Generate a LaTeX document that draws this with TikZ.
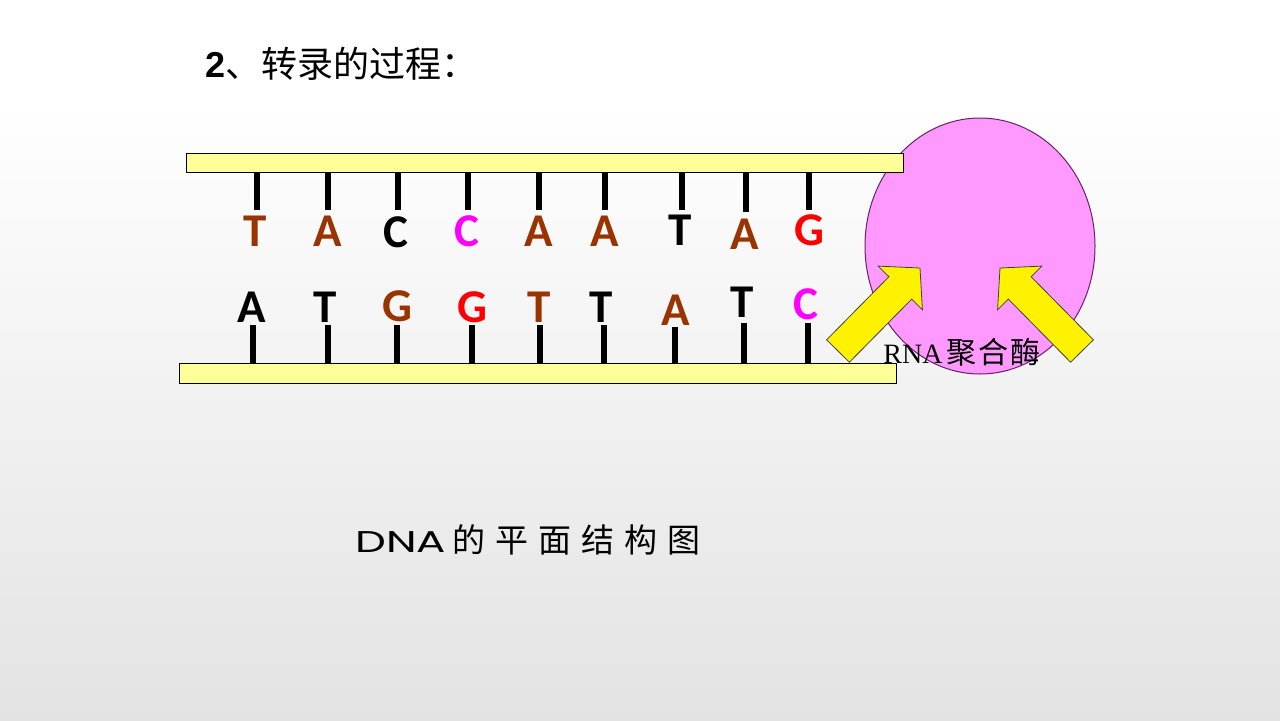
\documentclass[tikz,border=0pt]{standalone}
\usepackage{fontspec}
\usepackage{graphicx}
\usetikzlibrary{shapes.geometric}
\newfontfamily\cjk{Noto Sans CJK SC}
\newfontfamily\basef{Carlito}
\newfontfamily\arialf{Liberation Sans}
\newfontfamily\timesf{Liberation Serif}
\newfontfamily\gothicf{Poppins}
\definecolor{nbrown}{HTML}{993300}
\definecolor{nmag}{HTML}{FF00FF}
\definecolor{nred}{HTML}{FF0000}
\definecolor{barfill}{HTML}{FFFF99}
\definecolor{polfill}{HTML}{FF99FF}
\definecolor{poledge}{HTML}{6A1F6A}
\tikzset{
  bar/.style={draw=black, line width=0.5pt, fill=barfill, inner sep=0pt},
  tickline/.style={line width=3pt, black},
  base/.style={inner sep=0pt, font=\basef\bfseries\fontsize{23.5pt}{26pt}\selectfont},
  bigarrow/.style={fill=yellow, draw=black!75, line width=0.4pt, line join=miter},
}
\begin{document}
\begin{tikzpicture}[x=0.5pt,y=-0.5pt]
\useasboundingbox (0,0) rectangle (1280,720);
\fill[white] (0,0) rectangle (1280,720);
\shade[top color=white, bottom color=black!11] (0,100) rectangle (1280,720);

% RNA polymerase
\node[ellipse, draw=poledge, line width=0.5pt, fill=polfill, minimum width=115pt, minimum height=128pt, inner sep=0pt] (pol) at (980,246) {};

% strands
\node[bar, minimum width=358.5pt, minimum height=9.5pt] (topbar) at (544.5,162.5) {};
\node[bar, minimum width=358.5pt, minimum height=10pt] (botbar) at (537.5,373) {};

% top ticks
\foreach \x/\e in {257/210, 328/210, 398/210, 468/210, 539/210, 605/210, 682/210, 746/212, 809/210}
  \draw[tickline] (\x,172) -- (\x,\e);
% bottom ticks
\foreach \x/\s in {253/325, 328/325, 397/325, 472/325, 540/325, 604/325, 675/327, 744/323, 808/323}
  \draw[tickline] (\x,\s) -- (\x,363);

% top bases
\node[base, text=nbrown] (t1) at (255,231) {T};
\node[base, text=nbrown] (t2) at (328,231) {A};
\node[base, text=black]  (t3) at (396,232) {C};
\node[base, text=nmag]   (t4) at (467,231) {C};
\node[base, text=nbrown] (t5) at (539,231) {A};
\node[base, text=nbrown] (t6) at (605,231) {A};
\node[base, text=black]  (t7) at (680,230) {T};
\node[base, text=nbrown] (t8) at (745,234) {A};
\node[base, text=nred]   (t9) at (809,230) {G};
% bottom bases
\node[base, text=black]  (b1) at (252,307) {A};
\node[base, text=black]  (b2) at (325,307) {T};
\node[base, text=nbrown] (b3) at (397,306) {G};
\node[base, text=nred]   (b4) at (472,307) {G};
\node[base, text=nbrown] (b5) at (539,307) {T};
\node[base, text=black]  (b6) at (601,307) {T};
\node[base, text=nbrown] (b7) at (676,310) {A};
\node[base, text=black]  (b8) at (742,302) {T};
\node[base, text=nmag]   (b9) at (806,304) {C};

% yellow arrows
\draw[bigarrow] (826.6,339.8) -- (888.9,276.7) -- (878.2,266.1) -- (920,268) -- (922.4,309.7) -- (911.7,299.1) -- (849.4,362.2) -- cycle;
\draw[bigarrow] (1093.4,339.8) -- (1031.1,276.7) -- (1041.8,266.1) -- (1000,268) -- (997.6,309.7) -- (1008.3,299.1) -- (1070.6,362.2) -- cycle;

% texts
\node[anchor=west, inner sep=0pt] (title) at (205,64)
  {\fontsize{18pt}{20pt}\selectfont\arialf\bfseries 2\cjk\mdseries 、转录的过程：};
\node[anchor=west, inner sep=0pt] (rnap) at (883,352)
  {\fontsize{14pt}{16pt}\selectfont\timesf RNA\hspace{2pt}{\cjk\fontsize{15pt}{16pt}\selectfont 聚\hspace{1pt}合\hspace{1pt}酶}};
\node[anchor=west, inner sep=0pt] (caption) at (355,540)
  {\fontsize{15pt}{18pt}\selectfont\scalebox{1.45}[1]{\gothicf DNA}\hspace{3pt}{\cjk\fontsize{16.5pt}{18pt}\selectfont 的\hspace{5pt}平\hspace{5pt}面\hspace{5pt}结\hspace{5pt}构\hspace{5pt}图}};
\end{tikzpicture}
\end{document}
